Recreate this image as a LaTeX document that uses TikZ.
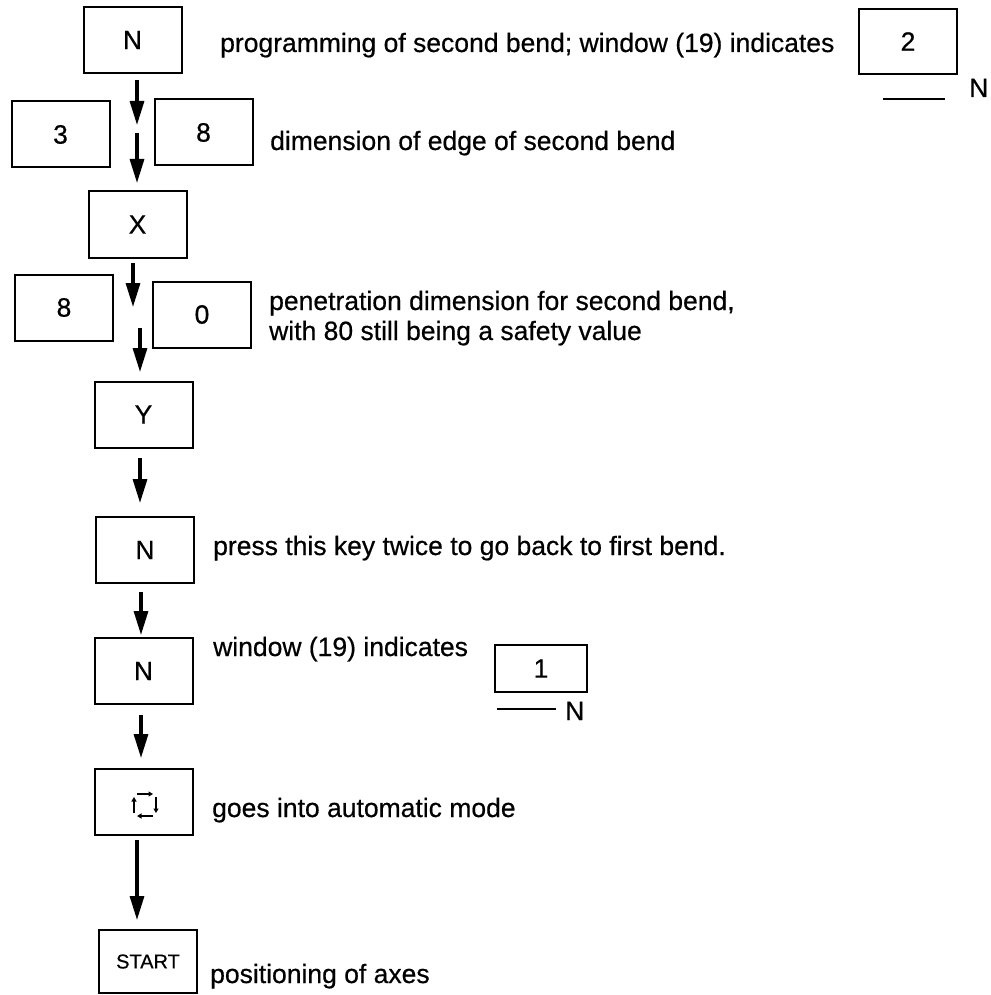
\documentclass[tikz,border=0pt]{standalone}
\usepackage{fontspec}
\setmainfont[FakeBold=0.5,AutoFakeBold=0.5]{Liberation Sans}
\usetikzlibrary{arrows.meta}
\begin{document}
\begin{tikzpicture}[x=1pt,y=-1pt,
  keybox/.style={draw, line width=2pt, inner sep=0pt, minimum width=98pt, minimum height=66pt, font=\fontsize{26.5}{30}\selectfont\bfseries},
  txt/.style={anchor=base west, inner sep=0pt, font=\fontsize{26.5}{33}\selectfont},
  arr/.style={line width=3.2pt, -{Triangle[length=24pt,width=14pt]}},
  small/.style={line width=1.8pt, -{Triangle[length=4.5pt,width=5pt]}},
  uline/.style={line width=2.5pt}]
\useasboundingbox (0,0) rectangle (990,995);
% key boxes
\node[keybox] (n1) at (132.5,40) {N};
\node[keybox] (k3) at (60.5,134.5) {3};
\node[keybox] (k8a) at (203.5,132.5) {8};
\node[keybox] (kx) at (137.5,224.5) {X};
\node[keybox] (k8b) at (64,307.5) {8};
\node[keybox] (k0) at (202,314.5) {0};
\node[keybox] (ky) at (143.5,414.5) {Y};
\node[keybox] (n2) at (145,550) {N};
\node[keybox] (n3) at (143.5,671) {N};
\node[keybox] (loop) at (144,801.5) {};
\node[keybox, minimum height=63pt, font=\fontsize{20}{24}\selectfont\bfseries] (start) at (148,961.5) {START};
% window displays
\node[keybox, minimum height=65pt] (w2) at (908,41.5) {2};
\node[keybox, minimum width=92pt, minimum height=47pt] (w1) at (541,668.5) {1};
\coordinate (u2a) at (883,99); \coordinate (u2b) at (945,99);
\draw[uline] (u2a) -- (u2b);
\node[txt] (u2n) at (969,97) {N};
\coordinate (u1a) at (497,709); \coordinate (u1b) at (556,709);
\draw[uline] (u1a) -- (u1b);
\node[txt] (u1n) at (565,720) {N};
% loop icon
\coordinate (la1) at (137,794); \coordinate (la2) at (153,794);
\coordinate (lb1) at (156,797); \coordinate (lb2) at (156,813);
\coordinate (lc1) at (153,816); \coordinate (lc2) at (137,816);
\coordinate (ld1) at (134,813); \coordinate (ld2) at (134,797);
\draw[small] (la1) -- (la2);
\draw[small] (lb1) -- (lb2);
\draw[small] (lc1) -- (lc2);
\draw[small] (ld1) -- (ld2);
% arrows
\coordinate (a1s) at (137,80);  \coordinate (a1e) at (137,125);
\coordinate (a2s) at (137,133); \coordinate (a2e) at (137,183);
\coordinate (a3s) at (133,263); \coordinate (a3e) at (133,307);
\coordinate (a4s) at (140,328); \coordinate (a4e) at (140,372);
\coordinate (a5s) at (140,458); \coordinate (a5e) at (140,503);
\coordinate (a6s) at (141,592); \coordinate (a6e) at (141,635);
\coordinate (a7s) at (141,715); \coordinate (a7e) at (141,758);
\coordinate (a8s) at (137,840); \coordinate (a8e) at (137,920);
\draw[arr] (a1s) -- (a1e);
\draw[arr] (a2s) -- (a2e);
\draw[arr] (a3s) -- (a3e);
\draw[arr] (a4s) -- (a4e);
\draw[arr] (a5s) -- (a5e);
\draw[arr] (a6s) -- (a6e);
\draw[arr] (a7s) -- (a7e);
\draw[arr] (a8s) -- (a8e);
% texts
\node[txt] (t1) at (220,52) {programming of second bend; window (19) indicates};
\node[txt] (t2) at (270,150) {dimension of edge of second bend};
\node[txt] (t3) at (269,310) {penetration dimension for second bend,};
\node[txt] (t4) at (269,340) {with 80 still being a safety value};
\node[txt] (t5) at (213,555) {press this key twice to go back to first bend.};
\node[txt] (t6) at (213,656) {window (19) indicates};
\node[txt] (t7) at (212,817) {goes into automatic mode};
\node[txt] (t8) at (210,983) {positioning of axes};
\end{tikzpicture}
\end{document}
